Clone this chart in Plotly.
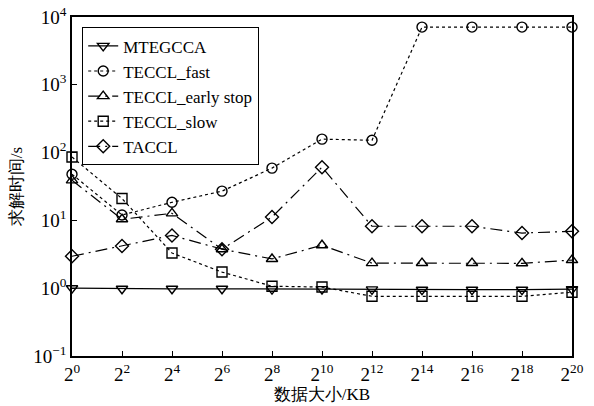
import plotly.graph_objects as go

# Data sizes (KB) as powers of two
size_exp = [0, 2, 4, 6, 8, 10, 12, 14, 16, 18, 20]
sizes_kb = [2 ** e for e in size_exp]
x_tick_text = [f"2<sup>{e}</sup>" for e in size_exp]

# Decade ticks for the time axis
y_exp = [-1, 0, 1, 2, 3, 4]
y_tick_vals = [10.0 ** e for e in y_exp]
y_tick_text = [f"10<sup>{'−1' if e < 0 else e}</sup>" for e in y_exp]

# Solve time (s) per method
mtegcca = [1.0, 0.98, 0.98, 0.98, 0.97, 0.97, 0.96, 0.95, 0.95, 0.95, 0.97]
teccl_fast = [48, 12, 18.5, 27, 59, 158, 152, 7100, 7100, 7100, 7100]
teccl_early = [39, 10.4, 12.7, 3.76, 2.7, 4.3, 2.34, 2.35, 2.35, 2.33, 2.6]
teccl_slow = [86, 21, 3.3, 1.73, 1.07, 1.04, 0.76, 0.76, 0.76, 0.76, 0.87]
taccl = [2.96, 4.2, 6.0, 3.76, 11.2, 61, 8.2, 8.2, 8.2, 6.5, 6.9]

series = [
    ("MTEGCCA", mtegcca, "triangle-down-open", "solid"),
    ("TECCL_fast", teccl_fast, "circle-open", "dot"),
    ("TECCL_early stop", teccl_early, "triangle-up-open", "12px,5px,2px,5px"),
    ("TECCL_slow", teccl_slow, "square-open", "dot"),
    ("TACCL", taccl, "diamond-open", "12px,5px,2px,5px"),
]

serif = "Liberation Serif"

fig = go.Figure()
for name, vals, sym, dash in series:
    fig.add_trace(go.Scatter(
        x=sizes_kb, y=vals, name=name, mode="lines+markers",
        line=dict(color="black", width=1.2, dash=dash),
        marker=dict(symbol=sym, size=10, color="black",
                    line=dict(color="black", width=1.4)),
        cliponaxis=False,
    ))

axis_common = dict(
    showline=True, linecolor="black", linewidth=1.5, mirror=True,
    ticks="inside", ticklen=5, tickwidth=1.2, tickcolor="black",
    showgrid=False, zeroline=False, automargin=False,
    tickfont=dict(family=serif, size=19, color="black"),
)

fig.update_xaxes(
    type="log", tickvals=sizes_kb, ticktext=x_tick_text,
    range=[0, 20 * 0.30103],
    title=dict(text="数据大小/KB", font=dict(family=serif, size=17, color="black"), standoff=0),
    **axis_common,
)
fig.update_yaxes(
    type="log", range=[-1, 4], tickvals=y_tick_vals, ticktext=y_tick_text,
    title=dict(text="求解时间/s", font=dict(family=serif, size=17, color="black"), standoff=6),
    **axis_common,
)

fig.update_layout(
    width=594, height=406,
    margin=dict(l=72, r=22, t=17, b=50),
    paper_bgcolor="white", plot_bgcolor="white",
    font=dict(family=serif, color="black"),
    legend=dict(
        x=0.02, y=0.97, xanchor="left", yanchor="top",
        bordercolor="black", borderwidth=1.2, bgcolor="white",
        font=dict(family=serif, size=17, color="black"),
        itemwidth=30, tracegroupgap=0,
    ),
    showlegend=True,
)

fig.write_html("out.html")
